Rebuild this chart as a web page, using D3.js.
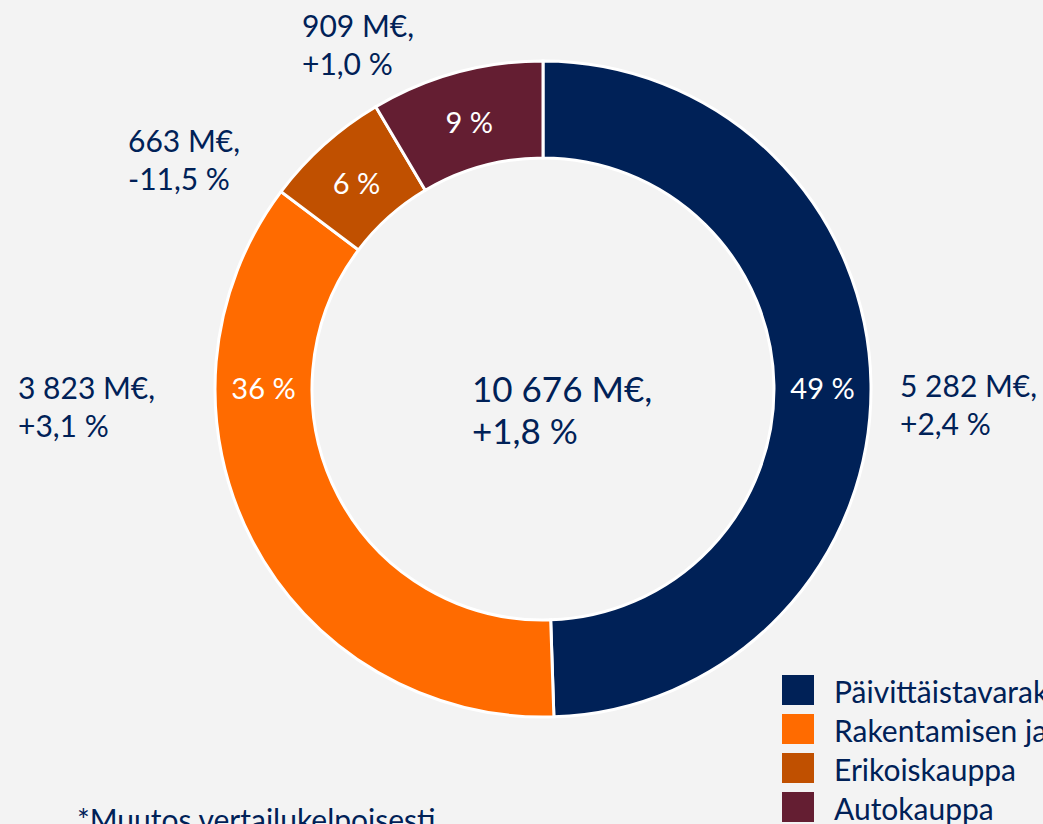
<!DOCTYPE html>
<html>
<head>
<meta charset="utf-8">
<script src="https://cdn.jsdelivr.net/npm/d3@7"></script>
<style>
  html, body { margin: 0; padding: 0; background: #f3f3f3; }
  svg { display: block; font-family: Lato, "Open Sans", sans-serif; }
</style>
</head>
<body>
<svg id="donut" width="1043" height="824"></svg>
<script>
// segments, clockwise from 12 o'clock
const segments = ['Päivittäistavarakauppa', 'Rakentamisen ja talotekniikan kauppa', 'Erikoiskauppa', 'Autokauppa'];
const sales = [5282, 3823, 663, 909];          // M€
const shares = ['49 %', '36 %', '6 %', '9 %'];
const changes = ['+2,4 %', '+3,1 %', '-11,5 %', '+1,0 %'];
const colors = ['#002157', '#ff6b00', '#c05000', '#641e32'];

const totalLabel = ['10 676 M€,', '+1,8 %'];
const footnote = '*Muutos vertailukelpoisesti';

// where the value labels sit (layout only)
const labelPos = [[900, 397], [18, 399], [128, 152], [302, 37]];

const textColor = '#002157';
const svg = d3.select('#donut');
const cx = 543, cy = 389;
const outerR = 328, innerR = 231;

svg.append('rect').attr('width', 1043).attr('height', 824).attr('fill', '#f3f3f3');

const data = segments.map((s, i) => ({ name: s, value: sales[i], share: shares[i], change: changes[i], color: colors[i] }));

const pie = d3.pie().sort(null).value(d => d.value);
const arc = d3.arc().innerRadius(innerR).outerRadius(outerR);
const arcs = pie(data);

const g = svg.append('g').attr('transform', 'translate(' + cx + ',' + cy + ')');

g.selectAll('path')
    .data(arcs)
    .enter().append('path')
    .attr('d', arc)
    .attr('fill', d => d.data.color)
    .attr('stroke', '#ffffff')
    .attr('stroke-width', 3);

// share labels: big slices get the label on the horizontal, small ones on the centroid
const midR = (innerR + outerR) / 2;
function labelPoint(d) {
    const pts = [Math.PI / 2, Math.PI * 1.5];
    for (const a of pts) {
        if (a > d.startAngle && a < d.endAngle) return [midR * Math.sin(a), -midR * Math.cos(a)];
    }
    const m = (d.startAngle + d.endAngle) / 2;
    return [midR * Math.sin(m), -midR * Math.cos(m) + 3];
}

g.selectAll('text.share')
    .data(arcs)
    .enter().append('text')
    .attr('class', 'share')
    .attr('x', d => labelPoint(d)[0])
    .attr('y', d => labelPoint(d)[1])
    .attr('dy', '0.36em')
    .attr('text-anchor', 'middle')
    .attr('fill', '#ffffff')
    .style('font-size', '29px')
    .text(d => d.data.share);

// value + change labels
arcs.forEach((d, i) => {
    const t = svg.append('text')
        .attr('x', labelPos[i][0])
        .attr('y', labelPos[i][1])
        .attr('fill', textColor)
        .style('font-size', '30px');
    t.append('tspan').attr('x', labelPos[i][0]).text(d3.format(',')(d.data.value).replace(/,/g, ' ') + ' M€,');
    t.append('tspan').attr('x', labelPos[i][0]).attr('dy', 38).text(d.data.change);
});

// total in the middle
const tc = svg.append('text')
    .attr('x', 472).attr('y', 402)
    .attr('fill', textColor)
    .style('font-size', '35px');
tc.append('tspan').attr('x', 472).text(totalLabel[0]);
tc.append('tspan').attr('x', 472).attr('dy', 42).text(totalLabel[1]);

// legend
const legend = svg.append('g').attr('transform', 'translate(782,675)');
const rows = legend.selectAll('g')
    .data(data)
    .enter().append('g')
    .attr('transform', (d, i) => 'translate(0,' + i * 39 + ')');
rows.append('rect')
    .attr('width', 32).attr('height', 30)
    .attr('fill', d => d.color);
rows.append('text')
    .attr('x', 52).attr('y', 28)
    .attr('fill', textColor)
    .style('font-size', '30px')
    .text(d => d.name);

svg.append('text')
    .attr('x', 77).attr('y', 831)
    .attr('fill', textColor)
    .style('font-size', '30px')
    .text(footnote);
</script>
</body>
</html>
